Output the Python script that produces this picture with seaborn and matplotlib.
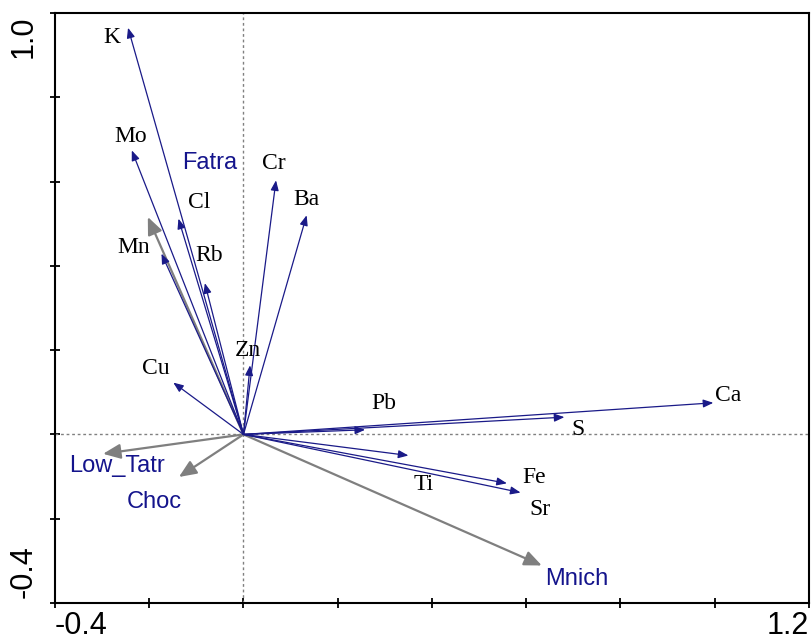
import numpy as np
import matplotlib
matplotlib.use("Agg")
import matplotlib.pyplot as plt
import seaborn as sns

# Element vectors (arrow tips) and label positions
elements = ["K", "Mo", "Cl", "Mn", "Rb", "Cr", "Ba", "Zn", "Cu",
            "Pb", "Ca", "S", "Fe", "Ti", "Sr"]
elem_x = [-0.245, -0.237, -0.138, -0.174, -0.082, 0.069, 0.134, 0.014, -0.149,
          0.258, 0.997, 0.681, 0.559, 0.350, 0.588]
elem_y = [0.965, 0.674, 0.512, 0.429, 0.359, 0.603, 0.520, 0.164, 0.123,
          0.011, 0.075, 0.041, -0.116, -0.050, -0.138]
elem_lx = [-0.280, -0.239, -0.094, -0.232, -0.073, 0.065, 0.134, 0.010, -0.186,
           0.297, 1.028, 0.710, 0.617, 0.382, 0.629]
elem_ly = [0.941, 0.708, 0.551, 0.443, 0.425, 0.642, 0.557, 0.199, 0.156,
           0.073, 0.093, 0.011, -0.103, -0.119, -0.178]

# Region (explanatory) vectors
regions = ["Fatra", "Low_Tatr", "Choc", "Mnich"]
reg_x = [-0.203, -0.298, -0.137, 0.633]
reg_y = [0.516, -0.046, -0.101, -0.311]
reg_lx = [-0.071, -0.268, -0.190, 0.707]
reg_ly = [0.645, -0.074, -0.161, -0.342]

sns.set_theme(style="white")
plt.rcParams["font.family"] = ["Liberation Sans", "DejaVu Sans"]

fig = plt.figure(figsize=(8.11, 6.41), dpi=100)
ax = fig.add_axes([0.0678, 0.0593, 0.9297, 0.9204])

ax.set_xlim(-0.4, 1.2)
ax.set_ylim(-0.4, 1.0)

# dotted zero lines
ax.axhline(0, color="#808080", lw=1, ls=(0, (2, 2)), zorder=1)
ax.axvline(0, color="#808080", lw=1, ls=(0, (2, 2)), zorder=1)

# region arrows (gray, thick)
for name, x, y, lx, ly in zip(regions, reg_x, reg_y, reg_lx, reg_ly):
    ax.annotate("", xy=(x, y), xytext=(0, 0),
                arrowprops=dict(arrowstyle="-|>,head_length=0.7,head_width=0.3",
                                mutation_scale=15, color="#7f7f7f", lw=1.6,
                                shrinkA=0, shrinkB=0), zorder=2)
    ax.text(lx, ly, name, ha="center", va="center", fontsize=17,
            color="#14148c", family=["Liberation Sans", "DejaVu Sans"])

# element arrows (navy, thin)
for name, x, y, lx, ly in zip(elements, elem_x, elem_y, elem_lx, elem_ly):
    ax.annotate("", xy=(x, y), xytext=(0, 0),
                arrowprops=dict(arrowstyle="-|>,head_length=0.5,head_width=0.2",
                                mutation_scale=12, color="#1a1a88", lw=0.9,
                                shrinkA=0, shrinkB=0), zorder=3)
    ax.text(lx, ly, name, ha="center", va="center", fontsize=17,
            color="black", family=["Liberation Serif", "DejaVu Serif"])

# frame and ticks
for side in ["top", "right", "bottom", "left"]:
    ax.spines[side].set_color("black")
    ax.spines[side].set_linewidth(1.5)

ax.set_xticks(np.arange(-0.4, 1.21, 0.2))
ax.set_yticks(np.arange(-0.4, 1.01, 0.2))
ax.set_xticklabels([])
ax.set_yticklabels([])
ax.tick_params(axis="both", direction="inout", length=7, width=1.3,
               color="black", bottom=True, left=True, top=False, right=False)

# end labels only, as in the original
tk = dict(fontsize=22, color="black", transform=ax.transAxes)
ax.text(0.0, -0.0644, "-0.4", ha="left", va="bottom", **tk)
ax.text(1.0, -0.0644, "1.2", ha="right", va="bottom", **tk)
ax.text(-0.022, 0.008, "-0.4", ha="right", va="bottom", rotation=90, **tk)
ax.text(-0.022, 0.995, "1.0", ha="right", va="top", rotation=90, **tk)

fig.savefig("out.png", dpi=100)
